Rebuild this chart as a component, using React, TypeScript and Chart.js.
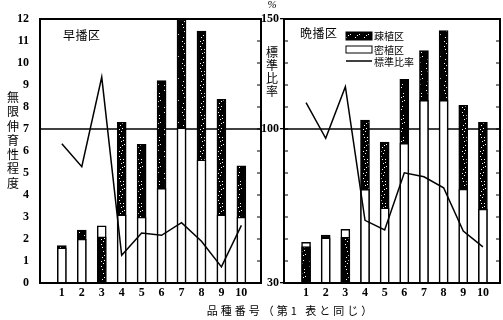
import { useEffect, useRef } from "react";
import { Chart, registerables } from "chart.js";
Chart.register(...registerables);

// ---- data ----
const varieties = [1, 2, 3, 4, 5, 6, 7, 8, 9, 10];
// 早播区
const earlySparse = [1.7, 2.4, 2.1, 7.3, 6.3, 9.2, 12.0, 11.45, 8.35, 5.33]; // 疎植区 (dark)
const earlyDense = [1.6, 2.0, 2.6, 3.1, 3.0, 4.3, 7.05, 5.6, 3.1, 3.0]; // 密植区 (white)
const earlyRatio = [93.3, 82.9, 123.6, 42.6, 52.7, 51.7, 57.4, 49.0, 37.3, 56.2]; // 標準比率 %
// 晩播区
const lateSparse = [1.65, 2.18, 2.08, 7.4, 6.4, 9.26, 10.56, 11.47, 8.08, 7.3];
const lateDense = [1.85, 2.05, 2.44, 4.26, 3.42, 6.35, 8.3, 8.3, 4.27, 3.36];
const lateRatio = [112.0, 95.8, 119.2, 58.5, 54.1, 80.1, 78.3, 73.3, 53.6, 46.4];

const degreeTicks = [0, 1, 2, 3, 4, 5, 6, 7, 8, 9, 10, 11, 12];
const ratioTicks = [30, 100, 150];
const referenceLevel = 7; // = 100 %

const numFont = { family: "'Liberation Serif', 'DejaVu Serif', serif", size: 12, weight: "bold" as const };
const cjk = "'Noto Sans CJK JP', sans-serif";

function makePattern(): CanvasPattern | string {
  const c = document.createElement("canvas");
  c.width = 9;
  c.height = 22;
  const g = c.getContext("2d");
  if (!g) return "#000";
  g.fillStyle = "#000";
  g.fillRect(0, 0, 9, 22);
  g.fillStyle = "#fff";
  const dots = [[2, 2], [6, 5], [4, 9], [7, 12], [3, 15], [5, 18], [4, 21], [6, 8], [3, 5], [5, 13], [2, 19]];
  dots.forEach(([x, y]) => g.fillRect(x, y, 1, 1));
  return g.createPattern(c, "repeat") || "#000";
}

function buildDatasets(sparse: number[], dense: number[], ratio: number[], pattern: any) {
  const back = varieties.map((v, i) => ({ x: v, y: Math.max(sparse[i], dense[i]) }));
  const backColors = varieties.map((_, i) => (sparse[i] >= dense[i] ? pattern : "#fff"));
  const front = varieties.map((v, i) => ({ x: v, y: Math.min(sparse[i], dense[i]) }));
  const frontColors = varieties.map((_, i) => (sparse[i] >= dense[i] ? "#fff" : pattern));
  const barCommon = {
    type: "bar" as const,
    yAxisID: "y",
    grouped: false,
    barThickness: 9,
    borderColor: "#000",
    borderWidth: 1.5,
    borderSkipped: "bottom" as const,
  };
  return [
    { ...barCommon, label: "back", data: back, backgroundColor: backColors, order: 3 },
    { ...barCommon, label: "front", data: front, backgroundColor: frontColors, order: 2 },
    {
      type: "line" as const,
      label: "標準比率",
      yAxisID: "yr",
      data: varieties.map((v, i) => ({ x: v, y: ratio[i] })),
      borderColor: "#000",
      borderWidth: 1.5,
      pointRadius: 0,
      tension: 0,
      order: 1,
    },
  ];
}

function panelPlugin(leftInnerTicks: boolean, legend: boolean, pattern: any) {
  return {
    id: "panel",
    beforeDatasetsDraw(chart: any) {
      const { ctx, chartArea: a, scales } = chart;
      const y7 = scales.y.getPixelForValue(referenceLevel);
      ctx.save();
      ctx.strokeStyle = "#000";
      ctx.lineWidth = 1.3;
      ctx.beginPath();
      ctx.moveTo(a.left, y7);
      ctx.lineTo(a.right, y7);
      ctx.stroke();
      ctx.restore();
    },
    afterDraw(chart: any) {
      const { ctx, chartArea: a, scales } = chart;
      ctx.save();
      ctx.strokeStyle = "#000";
      ctx.lineWidth = 1;
      ctx.beginPath();
      degreeTicks.forEach((t) => {
        if (t === 0 || t === 12) return;
        const y = scales.y.getPixelForValue(t);
        ctx.moveTo(a.right, y);
        ctx.lineTo(a.right - 4, y);
        if (leftInnerTicks) {
          ctx.moveTo(a.left, y);
          ctx.lineTo(a.left + 4, y);
        }
      });
      ctx.stroke();
      ctx.lineWidth = 2;
      ctx.strokeRect(a.left, a.top, a.right - a.left, a.bottom - a.top);
      if (legend) {
        const lx = 84;
        ctx.fillStyle = pattern;
        ctx.fillRect(lx, 32, 26, 8);
        ctx.lineWidth = 1;
        ctx.strokeRect(lx, 32, 26, 8);
        ctx.fillStyle = "#fff";
        ctx.fillRect(lx, 46, 26, 7);
        ctx.strokeRect(lx, 46, 26, 7);
        ctx.lineWidth = 1.5;
        ctx.beginPath();
        ctx.moveTo(lx, 61);
        ctx.lineTo(lx + 26, 61);
        ctx.stroke();
        ctx.fillStyle = "#000";
        ctx.font = `10px ${cjk}`;
        ctx.textBaseline = "middle";
        ctx.textAlign = "left";
        ctx.fillText("疎植区", lx + 28, 36);
        ctx.fillText("密植区", lx + 28, 50);
        ctx.fillText("標準比率", lx + 28, 62);
      }
      ctx.restore();
    },
  };
}

function makeChart(
  canvas: HTMLCanvasElement,
  sparse: number[],
  dense: number[],
  ratio: number[],
  cfg: { xmin: number; xmax: number; yWidth: number; padRight: number; right: boolean }
) {
  const pattern = makePattern();
  const xAxis = {
    type: "linear" as const,
    min: cfg.xmin,
    max: cfg.xmax,
    afterBuildTicks: (s: any) => {
      s.ticks = varieties.map((v) => ({ value: v }));
    },
    afterFit: (s: any) => {
      s.height = 37;
    },
    ticks: { font: numFont, color: "#000", padding: -5, autoSkip: false, maxRotation: 0 },
    grid: { display: false },
    border: { display: false },
  };
  const showDegree = !cfg.right;
  const scales: any = {
    x: xAxis,
    y: {
      type: "linear",
      position: "left",
      min: 0,
      max: 12,
      display: showDegree,
      afterBuildTicks: (s: any) => {
        s.ticks = degreeTicks.map((v) => ({ value: v }));
      },
      afterFit: (s: any) => {
        s.width = showDegree ? cfg.yWidth : 0;
      },
      ticks: { font: numFont, color: "#000", padding: 3 },
      grid: { display: false },
      border: { display: false },
    },
    yr: {
      type: "linear",
      position: "left",
      min: 30,
      max: 150,
      display: cfg.right,
      afterBuildTicks: (s: any) => {
        s.ticks = ratioTicks.map((v) => ({ value: v }));
      },
      afterFit: (s: any) => {
        s.width = cfg.right ? cfg.yWidth : 0;
      },
      ticks: { font: numFont, color: "#000", padding: 1 },
      grid: { display: true, drawOnChartArea: false, drawTicks: true, tickLength: 4, color: "#000", lineWidth: 1.3 },
      border: { display: false },
    },
  };
  return new Chart(canvas, {
    type: "bar",
    data: { datasets: buildDatasets(sparse, dense, ratio, pattern) as any },
    options: {
      responsive: false,
      animation: false,
      layout: { padding: { top: 19, right: cfg.padRight, left: 0, bottom: 0 } },
      plugins: { legend: { display: false }, tooltip: { enabled: false } },
      scales,
    },
    plugins: [panelPlugin(cfg.right, cfg.right, pattern)],
  });
}

const abs = (s: any) => ({ position: "absolute" as const, ...s });

function VerticalText({ text, x, y, step, size }: { text: string; x: number; y: number; step: number; size: number }) {
  return (
    <div style={abs({ left: x - size / 2, top: y, width: size, fontFamily: cjk, fontSize: size, lineHeight: `${step}px`, textAlign: "center", color: "#000" })}>
      {Array.from(text).map((ch, i) => (
        <div key={i}>{ch}</div>
      ))}
    </div>
  );
}

export default function App() {
  const leftRef = useRef<HTMLCanvasElement>(null);
  const rightRef = useRef<HTMLCanvasElement>(null);
  useEffect(() => {
    const c1 = makeChart(leftRef.current!, earlySparse, earlyDense, earlyRatio, {
      xmin: 0.459,
      xmax: 10.43,
      yWidth: 40,
      padRight: 2,
      right: false,
    });
    const c2 = makeChart(rightRef.current!, lateSparse, lateDense, lateRatio, {
      xmin: 0.427,
      xmax: 10.32,
      yWidth: 22,
      padRight: 3,
      right: true,
    });
    return () => {
      c1.destroy();
      c2.destroy();
    };
  }, []);
  return (
    <div style={abs({ left: 0, top: 0, width: 503, height: 320, background: "#fff", overflow: "hidden" })}>
      <canvas ref={leftRef} width={263} height={320} style={abs({ left: 0, top: 0, width: 263, height: 320 })} />
      <canvas ref={rightRef} width={241} height={320} style={abs({ left: 262, top: 0, width: 241, height: 320 })} />
      <VerticalText text="無限伸育性程度" x={13} y={90} step={14.3} size={12} />
      <VerticalText text="標準比率" x={272} y={45} step={13} size={12} />
      <div style={abs({ left: 266, top: -2, width: 12, textAlign: "center", fontFamily: "'Liberation Serif', serif", fontStyle: "italic", fontSize: 11, color: "#000" })}>%</div>
      <div style={abs({ left: 63, top: 26, fontFamily: cjk, fontSize: 12, letterSpacing: 0.5, color: "#000", lineHeight: "18px" })}>早播区</div>
      <div style={abs({ left: 300, top: 24, fontFamily: cjk, fontSize: 12, letterSpacing: 0.5, color: "#000", lineHeight: "18px" })}>晩播区</div>
      <div style={abs({ left: 191, top: 302, width: 200, textAlign: "center", fontFamily: cjk, fontSize: 11, letterSpacing: 3, whiteSpace: "nowrap", color: "#000", lineHeight: "16px" })}>
        品種番号（第1 表と同じ）
      </div>
    </div>
  );
}
